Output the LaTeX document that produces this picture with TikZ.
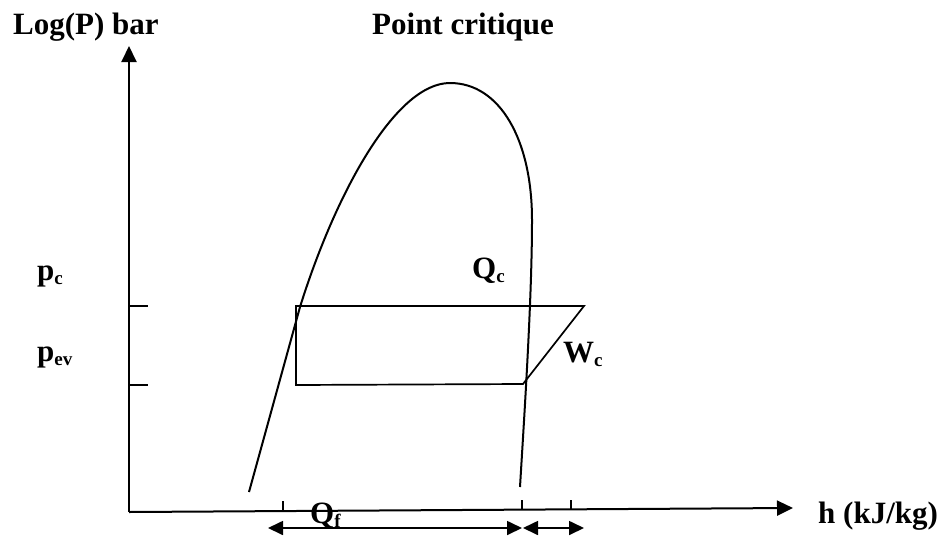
\documentclass[tikz,border=0pt]{standalone}
\usepackage{fontspec}
\setmainfont{Liberation Serif}
\usetikzlibrary{arrows.meta}
\newcommand{\lowtxt}[1]{{\fontsize{19}{19}\selectfont\raisebox{-4pt}{#1}}}
\begin{document}
\begin{tikzpicture}[x=1pt,y=-1pt,
  ln/.style={line width=2pt},
  thin/.style={line width=1.7pt},
  tip/.style={-{Triangle[length=16pt,width=15pt]}},
  dtip/.style={{Triangle[length=15pt,width=14pt]}-{Triangle[length=15pt,width=14pt]}},
  lbl/.style={anchor=base west,inner sep=0pt,font=\fontsize{31}{36}\selectfont\bfseries}]
\useasboundingbox (0,0) rectangle (942,536);
% axes
\coordinate (O) at (129,512);
\coordinate (Ytop) at (129,46);
\coordinate (Xend) at (793,508);
\draw[ln,tip] (O) -- (Ytop);
\draw[ln,tip] (O) -- (Xend);
% ticks on p axis
\coordinate (tc0) at (129,306); \coordinate (tc1) at (148,306);
\coordinate (te0) at (129,385); \coordinate (te1) at (148,385);
\draw[thin] (tc0) -- (tc1);
\draw[thin] (te0) -- (te1);
% saturation dome
\coordinate (L0) at (249,492);
\coordinate (L1) at (300,307);
\coordinate (K) at (450,83);
\coordinate (R1) at (532,220);
\coordinate (R0) at (520,487);
\draw[ln,line join=round] (L0) -- (L1)
  .. controls (335,195) and (395,83) .. (K)
  .. controls (500,83) and (532,140) .. (R1)
  .. controls (532,300) and (524,420) .. (R0);
% cycle
\coordinate (A) at (296,306);
\coordinate (B) at (584,306);
\coordinate (C) at (523,384);
\coordinate (D) at (296,385);
\draw[thin] (A) -- (B) -- (C) -- (D) -- cycle;
% ticks on h axis
\coordinate (h1a) at (283,501); \coordinate (h1b) at (283,511);
\coordinate (h2a) at (522,500); \coordinate (h2b) at (522,510);
\coordinate (h3a) at (571,500); \coordinate (h3b) at (571,510);
\draw[thin] (h1a) -- (h1b);
\draw[thin] (h2a) -- (h2b);
\draw[thin] (h3a) -- (h3b);
% arrows
\coordinate (q1) at (268,528); \coordinate (q2) at (522,528);
\coordinate (w1) at (523,528); \coordinate (w2) at (584,528);
\draw[thin,dtip] (q1) -- (q2);
\draw[thin,dtip] (w1) -- (w2);
% labels
\node[lbl] (logp) at (13,34) {Log(P) bar};
\node[lbl] (pcrit) at (372,34) {Point critique};
\node[lbl] (pc) at (37,280) {p\lowtxt{c}};
\node[lbl] (pev) at (37,361) {p\lowtxt{ev}};
\node[lbl] (qc) at (472,278) {Q\lowtxt{c}};
\node[lbl] (wc) at (563,362) {W\lowtxt{c}};
\node[lbl] (qf) at (310,523) {Q\lowtxt{f}};
\node[lbl] (hax) at (818,523) {h (kJ/kg)};
\end{tikzpicture}
\end{document}
